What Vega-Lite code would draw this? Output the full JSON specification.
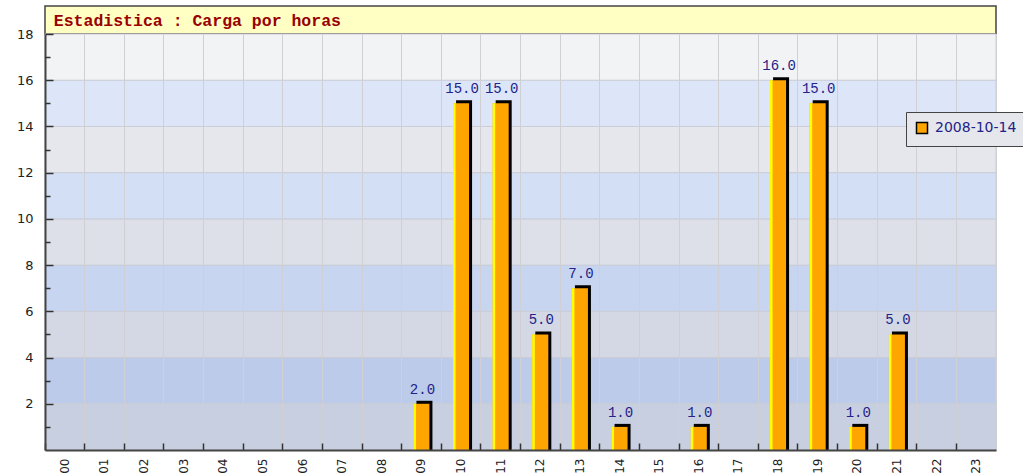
{
  "$schema": "https://vega.github.io/schema/vega-lite/v6.json",
  "autosize": "none",
  "bounds": "flush",
  "padding": {"left": 45, "top": 6, "right": 27, "bottom": 23},
  "params": [
    {"name": "width", "value": 951},
    {"name": "height", "value": 444}
  ],
  "background": "white",
  "spacing": 0,
  "datasets": {
    "header": [{"t": "Estadistica : Carga por horas", "hora": "00"}],
    "bands": [
      {"lo": 0, "hi": 2}, {"lo": 2, "hi": 4}, {"lo": 4, "hi": 6}, {"lo": 6, "hi": 8},
      {"lo": 8, "hi": 10}, {"lo": 10, "hi": 12}, {"lo": 12, "hi": 14}, {"lo": 14, "hi": 16},
      {"lo": 16, "hi": 18}
    ],
    "bars": [
      {"hora": "09", "carga": 2, "serie": "2008-10-14"},
      {"hora": "10", "carga": 15, "serie": "2008-10-14"},
      {"hora": "11", "carga": 15, "serie": "2008-10-14"},
      {"hora": "12", "carga": 5, "serie": "2008-10-14"},
      {"hora": "13", "carga": 7, "serie": "2008-10-14"},
      {"hora": "14", "carga": 1, "serie": "2008-10-14"},
      {"hora": "16", "carga": 1, "serie": "2008-10-14"},
      {"hora": "18", "carga": 16, "serie": "2008-10-14"},
      {"hora": "19", "carga": 15, "serie": "2008-10-14"},
      {"hora": "20", "carga": 1, "serie": "2008-10-14"},
      {"hora": "21", "carga": 5, "serie": "2008-10-14"}
    ]
  },
  "resolve": {"scale": {"x": "shared"}},
  "vconcat": [
    {
      "width": 951,
      "height": 28,
      "view": {"fill": "#ffffc4", "stroke": "#444444", "strokeWidth": 1.5},
      "data": {"name": "header"},
      "mark": {"type": "text", "align": "left", "baseline": "middle", "dx": -11, "dy": 1, "font": "Liberation Mono", "fontWeight": "bold", "fontSize": 16.5, "color": "#990000"},
      "encoding": {
        "x": {"field": "hora", "type": "nominal", "axis": null,
              "scale": {"domain": ["00","01","02","03","04","05","06","07","08","09","10","11","12","13","14","15","16","17","18","19","20","21","22","23"], "paddingInner": 0, "paddingOuter": 0}},
        "text": {"field": "t"}
      }
    },
    {
      "width": 951,
      "height": 416,
      "view": {"stroke": "#d4d4d4", "strokeWidth": 1},
      "resolve": {"axis": {"y": "independent"}},
      "layer": [
        {
          "data": {"name": "bands"},
          "mark": {"type": "rect", "stroke": "#cacdd6", "strokeWidth": 1},
          "encoding": {
            "y": {"field": "lo", "type": "quantitative", "scale": {"domain": [0, 18], "nice": false},
                  "axis": {
                    "orient": "left",
                    "values": [2,4,6,8,10,12,14,16,18],
                    "title": null,
                    "labelOverlap": false,
                    "tickSize": -8,
                    "labelPadding": 20,
                    "tickColor": "#333333",
                    "tickWidth": 1.5,
                    "domainColor": "#444444",
                    "domainWidth": 2,
                    "labelFont": "DejaVu Sans",
                    "labelFontSize": 13,
                    "labelColor": "#222222",
                    "grid": false,
                    "zindex": 1
                  }},
            "y2": {"field": "hi"},
            "fill": {"field": "lo", "type": "ordinal", "legend": null,
                     "scale": {"range": ["#c8cfe0", "#bccbe9", "#d3d8e4", "#c8d5f0", "#dde0e8", "#d3dff5", "#e6e7ec", "#dde6f8", "#f2f3f4"]}}
          }
        },
        {
          "data": {"name": "bars"},
          "mark": {"type": "bar", "width": 16, "color": "#000000", "xOffset": 3, "yOffset": -3},
          "encoding": {
            "x": {"field": "hora", "type": "nominal",
                  "scale": {"domain": ["00","01","02","03","04","05","06","07","08","09","10","11","12","13","14","15","16","17","18","19","20","21","22","23"], "paddingInner": 0, "paddingOuter": 0},
                  "axis": {
                    "title": null,
                    "bandPosition": 0,
                    "labelAngle": -90,
                    "tickSize": -7,
                    "labelPadding": 15,
                    "tickColor": "#333333",
                    "tickWidth": 1.5,
                    "domainColor": "#444444",
                    "domainWidth": 2,
                    "labelFont": "DejaVu Sans",
                    "labelFontSize": 12,
                    "labelColor": "#222222",
                    "grid": true,
                    "gridColor": "#cfcfd4",
                    "gridWidth": 1,
                    "zindex": 1
                  }},
            "y": {"field": "carga", "type": "quantitative",
                  "axis": {
                    "orient": "left",
                    "values": [1,3,5,7,9,11,13,15,17],
                    "title": null,
                    "labels": false,
                    "domain": false,
                    "grid": false,
                    "tickSize": -5,
                    "tickColor": "#333333",
                    "tickWidth": 1.5,
                    "zindex": 1
                  }},
            "y2": {"datum": 0}
          }
        },
        {
          "data": {"name": "bars"},
          "mark": {"type": "bar", "width": 16},
          "encoding": {
            "x": {"field": "hora", "type": "nominal"},
            "y": {"field": "carga", "type": "quantitative", "axis": null},
            "color": {"field": "serie", "type": "nominal",
                      "scale": {"range": ["#ffa500"]},
                      "legend": {"title": null, "orient": "none", "legendX": 861, "legendY": 106,
                                 "fillColor": "#e6e7ec", "strokeColor": "#444444", "padding": 9,
                                 "symbolType": "square", "symbolSize": 121, "symbolStrokeColor": "#000000",
                                 "symbolStrokeWidth": 1.5, "symbolOpacity": 1,
                                 "labelFont": "DejaVu Sans", "labelFontSize": 14, "labelColor": "#222288", "labelOffset": 6}}
          }
        },
        {
          "data": {"name": "bars"},
          "mark": {"type": "bar", "width": 2.5, "color": "#ffff00", "xOffset": -6.75},
          "encoding": {
            "x": {"field": "hora", "type": "nominal"},
            "y": {"field": "carga", "type": "quantitative", "axis": null}
          }
        },
        {
          "data": {"name": "bars"},
          "mark": {"type": "text", "baseline": "bottom", "dy": -7, "dx": 1, "font": "Liberation Mono", "fontSize": 14, "color": "#22228a"},
          "encoding": {
            "x": {"field": "hora", "type": "nominal"},
            "y": {"field": "carga", "type": "quantitative", "axis": null},
            "text": {"field": "carga", "type": "quantitative", "format": ".1f"}
          }
        }
      ]
    }
  ]
}
